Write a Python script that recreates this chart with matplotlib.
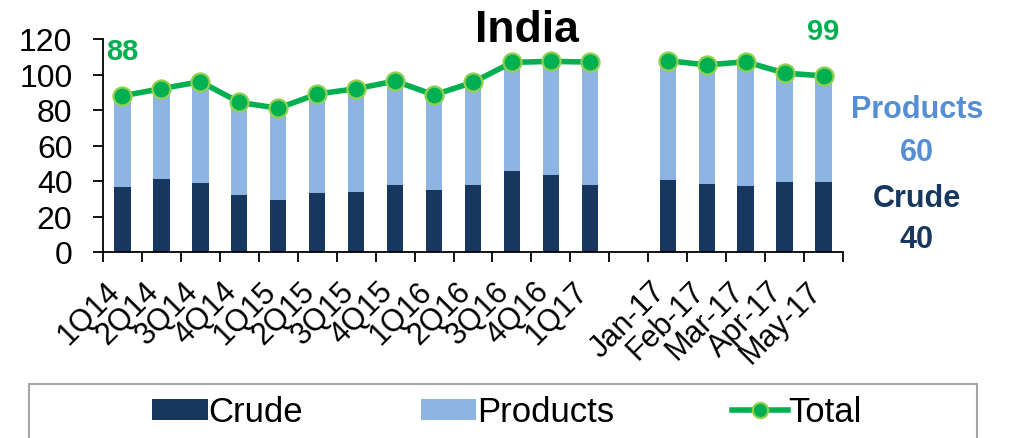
import numpy as np
import matplotlib
matplotlib.use("Agg")
import matplotlib.pyplot as plt
from matplotlib.lines import Line2D
from matplotlib.patches import Patch, Rectangle

# India oil imports (quarterly then monthly)
quarter_labels = ["1Q14", "2Q14", "3Q14", "4Q14", "1Q15", "2Q15", "3Q15",
                  "4Q15", "1Q16", "2Q16", "3Q16", "4Q16", "1Q17"]
quarter_crude = [36.4, 41.0, 39.0, 32.0, 29.5, 33.0, 34.0, 37.5, 35.0, 37.5,
                 45.5, 43.5, 37.5]
quarter_products = [51.6, 51.0, 57.0, 52.3, 51.5, 56.0, 58.0, 58.8, 53.5,
                    58.1, 61.3, 63.9, 69.5]

month_labels = ["Jan-17", "Feb-17", "Mar-17", "Apr-17", "May-17"]
month_crude = [40.7, 38.5, 37.2, 39.6, 39.6]
month_products = [67.1, 66.9, 70.0, 61.2, 59.6]

# an empty slot separates the quarterly block from the monthly block
labels = quarter_labels + [""] + month_labels
crude = np.array(quarter_crude + [np.nan] + month_crude)
products = np.array(quarter_products + [np.nan] + month_products)
total = crude + products
x = np.arange(len(labels))

CRUDE_C = "#17375E"
PROD_C = "#8DB4E2"
PROD_TXT = "#558ED5"
GREEN = "#00B050"
GREEN_EDGE = "#92D050"
SANS = "Liberation Sans"

fig = plt.figure(figsize=(10.1, 4.39), dpi=100)
ax = fig.add_axes([103 / 1010, 1 - 253 / 439, 740 / 1010, 213 / 439])

ax.bar(x, crude, width=0.42, color=CRUDE_C, zorder=2)
ax.bar(x, products, width=0.42, bottom=crude, color=PROD_C, zorder=2)
ax.plot(x, total, color=GREEN, lw=4, marker="o", ms=13, mfc=GREEN,
        mec=GREEN_EDGE, mew=1.6, zorder=3, clip_on=False)

ax.set_xlim(-0.5, len(labels) - 0.5)
ax.set_ylim(0, 120)
ax.set_yticks(np.arange(0, 121, 20))

for side in ("top", "right"):
    ax.spines[side].set_visible(False)
for side in ("left", "bottom"):
    ax.spines[side].set_linewidth(1.3)
    ax.spines[side].set_color("black")

ax.tick_params(axis="y", length=7, width=1.3, pad=15, labelsize=23)
for t in ax.get_yticklabels():
    t.set_fontfamily(SANS)

# category labels sit just right of each bar centre, slanted at 45 degrees
ax.set_xticks(x + 0.1)
ax.set_xticklabels(labels, rotation=45, ha="right", va="top",
                   fontfamily=SANS, fontsize=22)
ax.set_xticks(np.arange(-0.5, len(labels)), minor=True)
ax.tick_params(axis="x", which="major", length=0, pad=17)
ax.tick_params(axis="x", which="minor", length=7, width=1.3, direction="out")

# first and latest totals
for i in (0, len(labels) - 1):
    ax.annotate(f"{total[i]:.0f}", (x[i], total[i]), xytext=(0, 32),
                textcoords="offset points", ha="center", va="center",
                color=GREEN, fontsize=21, fontweight="bold", fontfamily=SANS,
                annotation_clip=False)

fig.text(527 / 1010, 1 - 30 / 439, "India", ha="center", va="center",
         fontsize=32, fontweight="bold", fontfamily=SANS)

# latest split shown at the right
last = len(labels) - 1
side_x = 917 / 1010
fig.text(side_x, 1 - 110 / 439, "Products", ha="center", va="center",
         color=PROD_TXT, fontsize=22, fontweight="bold", fontfamily=SANS)
fig.text(side_x, 1 - 153 / 439, f"{products[last]:.0f}", ha="center",
         va="center", color=PROD_TXT, fontsize=22, fontweight="bold",
         fontfamily=SANS)
fig.text(side_x, 1 - 199 / 439, "Crude", ha="center", va="center",
         color=CRUDE_C, fontsize=22, fontweight="bold", fontfamily=SANS)
fig.text(side_x, 1 - 240 / 439, f"{crude[last]:.0f}", ha="center",
         va="center", color=CRUDE_C, fontsize=22, fontweight="bold",
         fontfamily=SANS)

handles = [
    Patch(facecolor=CRUDE_C),
    Patch(facecolor=PROD_C),
    Line2D([], [], color=GREEN, lw=4, marker="o", ms=11, mfc=GREEN,
           mec=GREEN_EDGE, mew=1.6),
]
fig.legend(handles, ["Crude", "Products", "Total"], loc="center",
           bbox_to_anchor=(507 / 1010, 1 - 413 / 439), ncol=3,
           frameon=False, prop={"family": SANS, "size": 25},
           handlelength=1.6, handleheight=0.55, handletextpad=0.02,
           columnspacing=3.4)
fig.add_artist(Rectangle((29 / 1010, -0.2), 948 / 1010, 0.2 + 1 - 385 / 439,
                         transform=fig.transFigure, fill=False,
                         edgecolor="#A6A6A6", lw=1.5))

fig.savefig("out.png", dpi=100)
